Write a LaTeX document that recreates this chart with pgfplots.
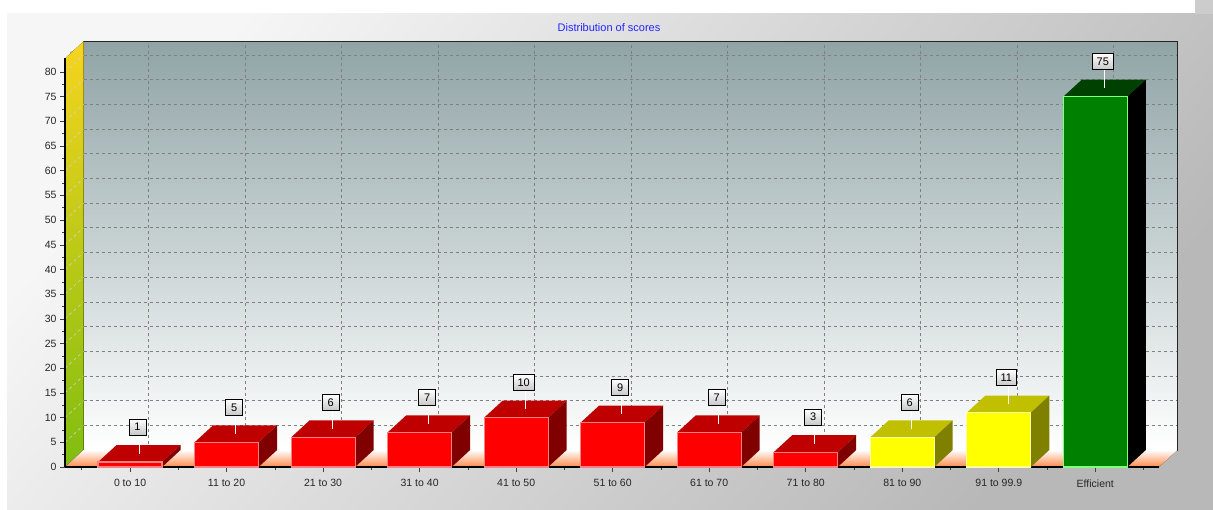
\documentclass[border=0pt]{standalone}
\usepackage{fontspec}
\setmainfont{Liberation Sans}
\usepackage{pgfplots}
\usepackage{pgfplotstable}
\pgfplotsset{compat=1.18}

\definecolor{redfront}{HTML}{FF0000}
\definecolor{redtop}{HTML}{BE0000}
\definecolor{redside}{HTML}{800000}
\definecolor{rededge}{HTML}{FF8080}
\definecolor{yelfront}{HTML}{FFFF00}
\definecolor{yeltop}{HTML}{C0C000}
\definecolor{yelside}{HTML}{808000}
\definecolor{yeledge}{HTML}{FFFFA0}
\definecolor{grnfront}{HTML}{008000}
\definecolor{grntop}{HTML}{004000}
\definecolor{grnside}{HTML}{000000}
\definecolor{grnedge}{HTML}{80FF80}
\definecolor{walltop}{HTML}{90A4A6}
\definecolor{wallyellow}{HTML}{F6D41E}
\definecolor{wallgreen}{HTML}{80BE10}
\definecolor{floororange}{HTML}{FF8A4C}
\definecolor{floormid}{HTML}{FFC8A4}
\definecolor{titleblue}{HTML}{2525FF}
\definecolor{panellight}{HTML}{F6F6F6}
\definecolor{paneldark}{HTML}{B8B8B8}

\pgfplotstableread{
x value
0 1
1 5
2 6
3 7
4 10
5 9
6 7
7 3
}\redscores
\pgfplotstableread{
x value
8 6
9 11
}\yelscores
\pgfplotstableread{
x value
10 75
}\grnscores

\def\hw{0.3315}
\def\dX{0.1917}
\def\dY{3.443}

\newcommand\threeD[4]{%
 \pgfplotsforeachungrouped \rowi in {0,...,#2}{%
  \pgfplotstablegetelem{\rowi}{x}\of#1\let\bX\pgfplotsretval
  \pgfplotstablegetelem{\rowi}{value}\of#1\let\bV\pgfplotsretval
  \pgfmathsetmacro\xl{\bX-\hw}%
  \pgfmathsetmacro\xr{\bX+\hw}%
  \pgfmathsetmacro\xlb{\bX-\hw+\dX}%
  \pgfmathsetmacro\xrb{\bX+\hw+\dX}%
  \pgfmathsetmacro\vt{\bV+\dY}%
  \pgfmathsetmacro\xm{\bX+\dX/2}%
  \pgfmathsetmacro\vm{\bV+\dY/2}%
  \pgfmathsetmacro\vl{\bV+5.6}%
  \edef\tmp{%
   \noexpand\addplot[fill=#3,draw=none,forget plot] coordinates {(\xl,\bV) (\xr,\bV) (\xrb,\vt) (\xlb,\vt)};
   \noexpand\addplot[fill=#4,draw=none,forget plot] coordinates {(\xr,0) (\xr,\bV) (\xrb,\vt) (\xrb,\dY)};
   \noexpand\addplot[white,line width=1pt,forget plot] coordinates {(\xm,\vm) (\xm,\vl)};
  }\tmp
 }}

\begin{document}
\begin{tikzpicture}[x=1pt,y=1pt]
\path[use as bounding box] (0,0) rectangle (1213,509);
\fill[white] (0,0) rectangle (1213,509);
\shade[top color=panellight, bottom color=paneldark, shading angle=50] (7,0) rectangle (1213,495);
\fill[black!20] (1195,495) rectangle (1213,509);
\node[text=titleblue, font=\fontsize{11}{13}\selectfont] at (609,481) {Distribution of scores};

% back wall with grid, floor and left wall
\begin{axis}[
 at={(83.5pt,59pt)}, anchor=south west, scale only axis,
 width=1094pt, height=408.5pt,
 xmin=-0.674, xmax=10.66, ymin=0, ymax=82.73,
 xtick={0,...,10}, ytick={0,5,...,80},
 xticklabel={}, yticklabel={}, major tick length=0pt,
 grid=major,
 grid style={gray, line width=0.6pt, dash pattern=on 3pt off 3pt},
 axis background/.style={top color=walltop, bottom color=white},
 axis line style={black!85, line width=0.9pt},
 clip=false,
]
\fill[top color=wallyellow, bottom color=wallgreen]
 ([shift={(-18.5pt,-17pt)}]rel axis cs:0,0) -- ([shift={(-18.5pt,-17pt)}]rel axis cs:0,1)
 -- (rel axis cs:0,1) -- (rel axis cs:0,0) -- cycle;
\fill[top color=white, middle color=floormid, bottom color=floororange]
 ([shift={(-18.5pt,-17pt)}]rel axis cs:0,0) -- ([shift={(-18.5pt,-17pt)}]rel axis cs:1,0)
 -- (rel axis cs:1,0) -- (rel axis cs:0,0) -- cycle;
\pgfplotsinvokeforeach{5,10,...,80}{
 \draw[white!65!gray, line width=0.6pt, dash pattern=on 3pt off 3pt]
  ([shift={(-18.5pt,-17pt)}]axis cs:-0.674,#1) -- (axis cs:-0.674,#1);
}
\end{axis}

% front: axes and bars
\begin{axis}[
 at={(65pt,42pt)}, anchor=south west, scale only axis,
 width=1094pt, height=408.5pt,
 xmin=-0.674, xmax=10.66, ymin=0, ymax=82.73,
 axis x line=bottom, axis y line=left,
 axis line style={-, black, line width=2pt},
 xtick={0,...,10},
 xticklabels={0 to 10,11 to 20,21 to 30,31 to 40,41 to 50,51 to 60,61 to 70,71 to 80,81 to 90,91 to 99.9,Efficient},
 minor xtick={-0.5,0.5,...,10.5},
 ytick={0,5,...,80}, minor y tick num=1,
 tick align=outside, major tick length=5pt, minor tick length=3pt,
 tick style={black!75, line width=0.6pt},
 ticklabel style={font=\fontsize{10.5}{12}\selectfont, text=black!85},
 xticklabel style={yshift=-4pt},
 /pgf/number format/assume math mode=true,
 every node near coord/.append style={anchor=center, xshift=7.5pt, yshift=35pt,
   draw=black, line width=0.8pt, top color=white, bottom color=black!22, text=black,
   font=\fontsize{11}{12}\selectfont, inner xsep=4.5pt, minimum width=17pt, minimum height=16pt},
 clip=false,
]
\threeD{\redscores}{7}{redtop}{redside}
\threeD{\yelscores}{1}{yeltop}{yelside}
\threeD{\grnscores}{0}{grntop}{grnside}
\addplot[ybar, bar width=64pt, fill=redfront, draw=rededge, line width=1.2pt, nodes near coords] table[x=x, y=value] {\redscores};
\addplot[ybar, bar width=64pt, fill=yelfront, draw=yeledge, line width=1.2pt, nodes near coords] table[x=x, y=value] {\yelscores};
\addplot[ybar, bar width=64pt, fill=grnfront, draw=grnedge, line width=1.2pt, nodes near coords] table[x=x, y=value] {\grnscores};
\end{axis}
\end{tikzpicture}
\end{document}
